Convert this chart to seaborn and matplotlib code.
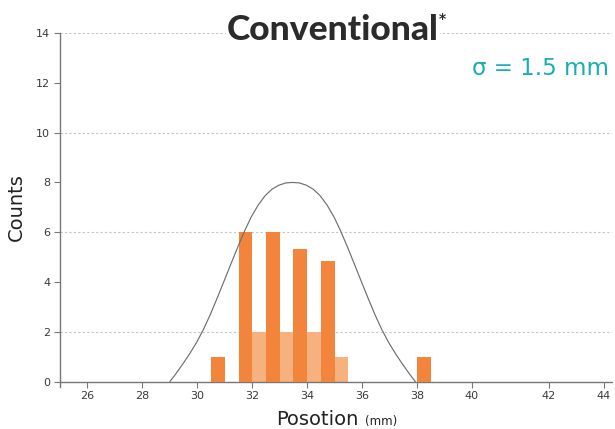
import numpy as np
import pandas as pd
import matplotlib
matplotlib.use("Agg")
import matplotlib.pyplot as plt
import seaborn as sb


# bars: left edge of each 0.5 mm bin and its height
dark_left = [30.5, 31.5, 32.5, 33.5, 34.5, 38.0]
dark_counts = [1, 6, 6, 5.33, 4.85, 1]
light_left = [32.0, 33.0, 34.0, 35.0]
light_counts = [2, 2, 2, 1]

# fitted curve, points
curve_x = [29.0, 29.22, 29.47, 29.72, 29.97, 30.22, 30.47, 30.72, 30.97, 31.22,
           31.47, 31.72, 31.97, 32.22, 32.47, 32.72, 32.97, 33.22, 33.47,
           33.72, 33.97, 34.22, 34.47, 34.72, 34.97, 35.22, 35.47, 35.72,
           35.97, 36.22, 36.47, 36.72, 36.97, 37.22, 37.47, 37.72, 37.94]
curve_y = [0.0, 0.32, 0.71, 1.12, 1.57, 2.09, 2.69, 3.35, 4.03, 4.72,
           5.40, 6.05, 6.63, 7.10, 7.47, 7.73, 7.89, 7.98, 8.0,
           7.98, 7.89, 7.73, 7.47, 7.10, 6.63, 6.05, 5.40, 4.72,
           4.03, 3.35, 2.69, 2.09, 1.57, 1.12, 0.71, 0.32, 0.0]

x_ticks = [26, 28, 30, 32, 34, 36, 38, 40, 42.8, 44.8]
x_tick_labels = ["26", "28", "30", "32", "34", "36", "38", "40", "42", "44"]
y_ticks = [0, 2, 4, 6, 8, 10, 12, 14]
grid_levels = [2, 6, 10, 14]

DARK = "#F3843B"
LIGHT = "#F7B17E"
TEAL = "#1AAFAF"
AXIS = "#777777"
TXT = "#3a3a3a"

sb.set_style("white")
plt.rcParams["font.family"] = ["DejaVu Sans"]

fig = plt.figure(figsize=(6.15, 4.29), dpi=100)
ax = fig.add_axes([60 / 615, 1 - 386.7 / 429, 552 / 615, (386.7 - 33) / 429])

for g in grid_levels:
    ax.axhline(g, color="#c4c4c4", lw=0.8, ls=(0, (2, 2)), zorder=0)

light_df = pd.DataFrame({"pos": np.array(light_left) + 0.25, "n": light_counts})
dark_df = pd.DataFrame({"pos": np.array(dark_left) + 0.25, "n": dark_counts})
sb.histplot(data=light_df, x="pos", weights="n", binwidth=0.5, binrange=(25, 45),
            color=LIGHT, alpha=1, linewidth=0, ax=ax, zorder=2)
sb.histplot(data=dark_df, x="pos", weights="n", binwidth=0.5, binrange=(25, 45),
            color=DARK, alpha=1, linewidth=0, ax=ax, zorder=3)
sb.lineplot(x=curve_x, y=curve_y, color="#6f6f6f", lw=0.85, ax=ax, zorder=4,
            sort=False)

ax.set_xlim(25, 45.1)
ax.set_ylim(-0.2, 14)
ax.set_xticks(x_ticks)
ax.set_xticklabels(x_tick_labels)
ax.set_yticks(y_ticks)
ax.spines["top"].set_visible(False)
ax.spines["right"].set_visible(False)
ax.spines["bottom"].set_position(("data", 0))
for s in ("left", "bottom"):
    ax.spines[s].set_color(AXIS)
    ax.spines[s].set_linewidth(1.0)
ax.tick_params(axis="both", length=4, width=0.8, color=AXIS, labelsize=8,
               labelcolor=TXT, pad=3, bottom=True, left=True)
ax.set_xlabel("")
ax.set_ylabel("")

fig.text(16 / 615, 1 - 207 / 429, "Counts", rotation=90, ha="center", va="center",
         fontsize=14, color="#222222")
fig.text(333 / 615, 1 - 40 / 429, "Conventional", ha="center", va="baseline",
         fontsize=25.5, fontweight="black", color="#2b2b2b", family=["Lato"],
         bbox=dict(facecolor="white", edgecolor="none", pad=0.5))
fig.text(442 / 615, 1 - 19 / 429, "*", ha="center", va="center", fontsize=10,
         fontweight="bold", color="#2b2b2b")
fig.text(609 / 615, 1 - 75 / 429, "σ = 1.5 mm", ha="right", va="baseline",
         fontsize=16.5, color=TEAL)
fig.text(317 / 615, 1 - 425 / 429, "Posotion", ha="center", va="baseline",
         fontsize=14, color="#222222")
fig.text(381 / 615, 1 - 425 / 429, "(mm)", ha="center", va="baseline",
         fontsize=8.5, color="#222222")

plt.savefig("out.png", dpi=100)
